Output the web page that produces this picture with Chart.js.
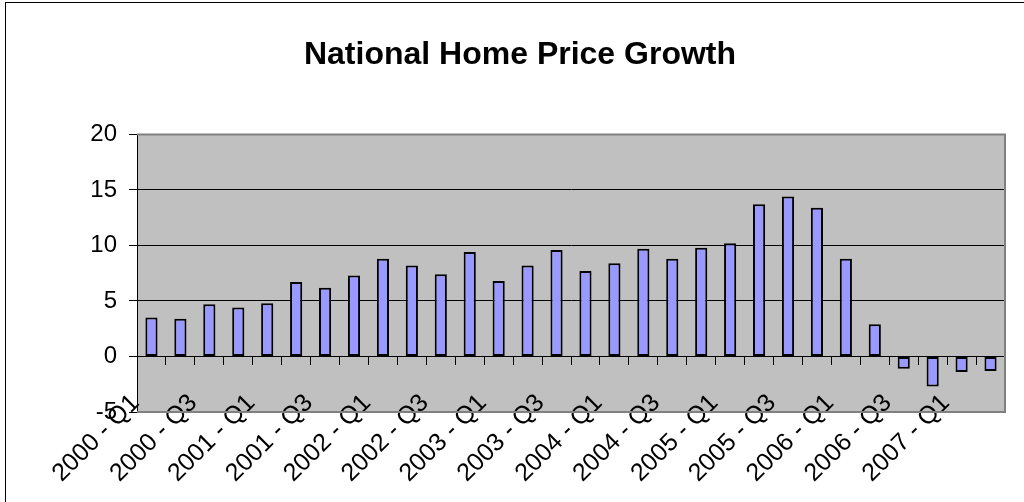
<!DOCTYPE html>
<html>
<head>
<meta charset="utf-8">
<script src="https://cdn.jsdelivr.net/npm/chart.js@4.4.1/dist/chart.umd.min.js"></script>
<style>
  html, body { margin: 0; padding: 0; background: #fff; width: 1024px; height: 502px; overflow: hidden; }
  #frame { position: absolute; left: 5px; top: 2px; width: 1200px; height: 700px; border: 1px solid #000; }
  #c { position: absolute; left: 0; top: 0; }
</style>
</head>
<body>
<div id="frame"></div>
<canvas id="c" width="1024" height="502"></canvas>
<script>
const title = 'National Home Price Growth';
const categories = [
  '2000 - Q1', '2000 - Q2', '2000 - Q3', '2000 - Q4',
  '2001 - Q1', '2001 - Q2', '2001 - Q3', '2001 - Q4',
  '2002 - Q1', '2002 - Q2', '2002 - Q3', '2002 - Q4',
  '2003 - Q1', '2003 - Q2', '2003 - Q3', '2003 - Q4',
  '2004 - Q1', '2004 - Q2', '2004 - Q3', '2004 - Q4',
  '2005 - Q1', '2005 - Q2', '2005 - Q3', '2005 - Q4',
  '2006 - Q1', '2006 - Q2', '2006 - Q3', '2006 - Q4',
  '2007 - Q1', '2007 - Q2'
];
const growth = [
  3.5, 3.4, 4.7, 4.4,
  4.8, 6.7, 6.2, 7.3,
  8.8, 8.2, 7.4, 9.4,
  6.8, 8.2, 9.6, 7.7,
  8.4, 9.7, 8.8, 9.8,
  10.2, 13.7, 14.4, 13.4,
  8.8, 2.9, -1.1, -2.7,
  -1.4, -1.3
];
const shownTickLabels = [
  '2000 - Q1', '2000 - Q3', '2001 - Q1', '2001 - Q3', '2002 - Q1',
  '2002 - Q3', '2003 - Q1', '2003 - Q3', '2004 - Q1', '2004 - Q3',
  '2005 - Q1', '2005 - Q3', '2006 - Q1', '2006 - Q3', '2007 - Q1'
];
const yTicks = [-5, 0, 5, 10, 15, 20];

const FONT = 'Liberation Sans, Arial, Helvetica, sans-serif';

const plotFrame = {
  id: 'plotFrame',
  beforeDraw(chart) {
    const a = chart.chartArea, ctx = chart.ctx;
    ctx.save();
    ctx.fillStyle = '#C0C0C0';
    ctx.fillRect(a.left, a.top, a.right - a.left, a.bottom - a.top);
    ctx.restore();
  },
  beforeDatasetsDraw(chart) {
    const a = chart.chartArea, ctx = chart.ctx;
    ctx.save();
    ctx.strokeStyle = '#808080';
    ctx.lineWidth = 2;
    ctx.beginPath();
    ctx.moveTo(a.left, a.top);
    ctx.lineTo(a.right, a.top);
    ctx.lineTo(a.right, a.bottom);
    ctx.lineTo(a.left, a.bottom);
    ctx.stroke();
    ctx.restore();
  }
};

new Chart(document.getElementById('c'), {
  type: 'bar',
  data: {
    labels: categories,
    datasets: [{
      data: growth,
      backgroundColor: '#9999FF',
      borderColor: '#000000',
      borderWidth: 2,
      borderSkipped: false,
      categoryPercentage: 1.0,
      barPercentage: 0.42
    }]
  },
  options: {
    responsive: false,
    animation: false,
    devicePixelRatio: 1,
    layout: { padding: { left: 35, right: 19, top: 0, bottom: 90 } },
    plugins: {
      legend: { display: false },
      tooltip: { enabled: false },
      title: {
        display: true,
        text: title,
        color: '#000',
        font: { family: FONT, size: 32, weight: 'bold' },
        padding: { top: 36, bottom: 60 }
      }
    },
    scales: {
      x: {
        position: { y: 0 },
        offset: true,
        afterFit(scale) { scale.paddingRight = 0; scale.paddingLeft = 0; },
        grid: {
          offset: true,
          drawOnChartArea: false,
          drawTicks: true,
          tickLength: 8,
          tickColor: '#000'
        },
        border: { display: true, color: '#000', width: 1 },
        ticks: {
          autoSkip: false,
          minRotation: 45,
          maxRotation: 45,
          padding: 24,
          labelOffset: -16,
          color: '#000',
          font: { family: FONT, size: 25 },
          callback: function(value, index) {
            const lbl = this.getLabelForValue(value);
            return shownTickLabels.includes(lbl) ? lbl : '';
          }
        }
      },
      y: {
        min: yTicks[0],
        max: yTicks[yTicks.length - 1],
        afterFit(scale) { scale.width = 102; },
        grid: {
          color: (ctx) => (ctx.tick && (ctx.tick.value === 20 || ctx.tick.value === -5)) ? 'rgba(0,0,0,0)' : '#000',
          lineWidth: 1,
          tickColor: '#000',
          tickLength: 8,
          drawTicks: true
        },
        border: { display: true, color: '#000', width: 1 },
        ticks: {
          stepSize: 5,
          padding: 12,
          color: '#000',
          font: { family: FONT, size: 24 }
        },
        afterBuildTicks(scale) { scale.ticks = yTicks.map(v => ({ value: v })); }
      }
    }
  },
  plugins: [plotFrame]
});
</script>
</body>
</html>
